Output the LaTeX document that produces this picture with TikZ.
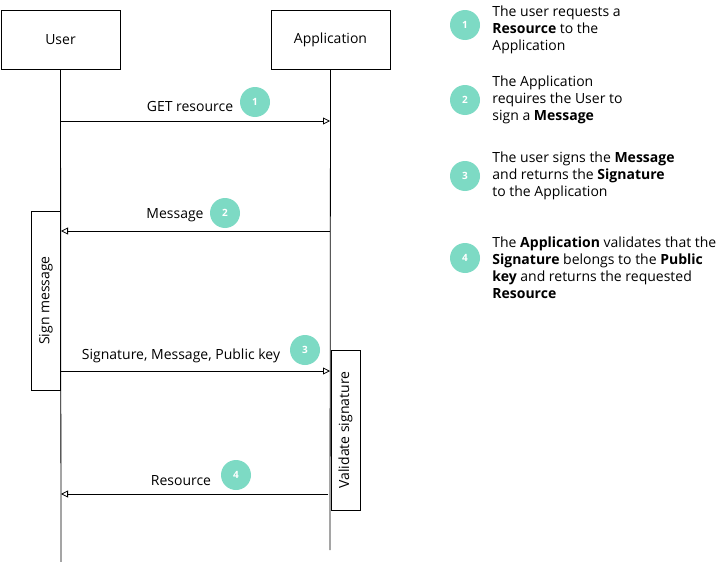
\documentclass[tikz,border=0pt]{standalone}
\usepackage{fontspec}
\setmainfont{Open Sans}
\usepackage{xcolor}
\usetikzlibrary{arrows.meta, positioning}
\definecolor{badgeteal}{RGB}{125,218,196}
\tikzstyle{actor} = [
    rectangle,
    minimum width=119pt,
    minimum height=59pt,
    text centered,
    draw=black,
    line width=0.8pt,
    font=\fontsize{14}{16}\selectfont
]
\tikzstyle{activity} = [
    rectangle,
    minimum height=29pt,
    rotate=90,
    text centered,
    draw=black,
    line width=0.8pt,
    font=\fontsize{14}{16}\selectfont
]
\tikzstyle{badge} = [
    circle,
    fill=badgeteal,
    minimum size=30pt,
    inner sep=0pt,
    text=white,
    font=\fontsize{10}{11}\selectfont\bfseries
]
\tikzstyle{msg} = [
    inner sep=0pt,
    font=\fontsize{14}{16}\selectfont
]
\tikzstyle{note} = [
    inner sep=0pt,
    align=left,
    font=\fontsize{14}{17}\selectfont
]
\tikzstyle{lifeline} = [
    line width=0.8pt
]
\tikzstyle{arrow} = [
    line width=0.8pt,
    -{Triangle[open, length=7pt, width=7pt]}
]

\begin{document}
\begin{tikzpicture}[
    x=1pt, y=-1pt,
    node distance=12pt
]

\useasboundingbox (0,0) rectangle (721,562);

\node (user) [actor] at (60.5,40)
{User};

\node (app) [actor] at (330.5,40)
{Application};

\coordinate (userend) at (61,562);

\coordinate (append) at (330,550);

\node (signbox) [activity, minimum width=179pt] at (46,300.5)
{Sign message};

\node (validbox) [activity, minimum width=160pt] at (345.5,430)
{Validate signature};

\draw [lifeline] (user.south) -- (userend);

\draw [lifeline] (app.south) -- (append);

% messages
\coordinate (u1) at (61,121);
\coordinate (a1) at (330,121);
\coordinate (u2) at (61,231);
\coordinate (a2) at (330,231);
\coordinate (u3) at (61,371);
\coordinate (a3) at (330,371);
\coordinate (u4) at (61,494);
\coordinate (a4) at (328,494);

\draw [arrow] (u1) -- (a1);

\draw [arrow] (a2) -- (u2);

\draw [arrow] (u3) -- (a3);

\draw [arrow] (a4) -- (u4);

\node (getlabel) [msg] at (190,106)
{GET resource};

\node (msglabel) [msg] at (175,215)
{Message};

\node (siglabel) [msg] at (181,356)
{Signature, Message, Public key};

\node (reslabel) [msg] at (181,481)
{Resource};

\node (step1) [badge] at (255,102) {1};

\node (step2) [badge] at (225,213) {2};

\node (step3) [badge] at (305,350) {3};

\node (step4) [badge] at (236,475) {4};

% legend
\node (key1) [badge] at (465,25) {1};

\node (key2) [badge] at (465,100) {2};

\node (key3) [badge] at (465,176) {3};

\node (key4) [badge] at (465,258) {4};

\node (text1) [note, right=of key1, yshift=-5pt]
{The user requests a\\
\textbf{Resource} to the\\
Application};

\node (text2) [note, right=of key2]
{The Application\\
requires the User to\\
sign a \textbf{Message}};

\node (text3) [note, right=of key3]
{The user signs the \textbf{Message}\\
and returns the \textbf{Signature}\\
to the Application};

\node (text4) [note, right=of key4, yshift=-9.5pt]
{The \textbf{Application} validates that the\\
\textbf{Signature} belongs to the \textbf{Public}\\
\textbf{key} and returns the requested\\
\textbf{Resource}};

\end{tikzpicture}
\end{document}
